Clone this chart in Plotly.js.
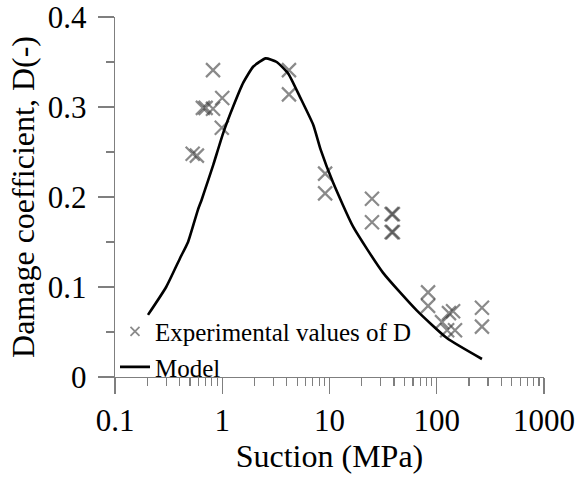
<!DOCTYPE html>
<html>
<head>
<meta charset="utf-8">
<script src="https://cdn.plot.ly/plotly-3.0.1.min.js"></script>
<style>html,body{margin:0;padding:0;background:#fff;}#chart{width:576px;height:477px;}</style>
</head>
<body>
<div id="chart"></div>
<script>
// Experimental values of D
const expSuction = [0.82, 0.66, 0.70, 0.82, 1.0, 0.99, 0.53, 0.58, 4.19, 4.19, 9.1, 9.1, 24.9, 24.9, 38, 39, 38, 39, 83, 83, 142, 130, 112, 125, 148, 264, 264];
const expD       = [0.341, 0.299, 0.299, 0.298, 0.310, 0.277, 0.248, 0.246, 0.341, 0.314, 0.226, 0.204, 0.198, 0.172, 0.181, 0.181, 0.161, 0.161, 0.094, 0.079, 0.073, 0.071, 0.061, 0.052, 0.052, 0.077, 0.056];
// Model curve
const modelSuction = [0.203, 0.30, 0.404, 0.48, 0.594, 0.643, 0.736, 0.826, 1.02, 1.27, 1.57, 1.95, 2.54, 3.22, 4.13, 5.31, 7.06, 8.3, 10.8, 16.6, 31.5, 65, 125, 264];
const modelD       = [0.069, 0.100, 0.132, 0.150, 0.186, 0.197, 0.218, 0.236, 0.271, 0.301, 0.327, 0.345, 0.354, 0.350, 0.337, 0.311, 0.280, 0.252, 0.216, 0.167, 0.116, 0.074, 0.043, 0.020];
const seriesNames = ["Experimental values of D", "Model"];
const xTickVals = [0.1, 1, 10, 100, 1000];
const yTickVals = [0, 0.1, 0.2, 0.3, 0.4];

const serif = "Liberation Serif, Times New Roman, serif";
const axisGray = "#7f7f7f";

const traces = [
  {
    x: expSuction, y: expD, type: "scatter", mode: "markers", showlegend: false,
    marker: {symbol: "x-thin-open", size: 14, color: "rgba(60,60,60,0.6)", line: {width: 2.2, color: "rgba(60,60,60,0.6)"}}
  },
  {
    x: [null], y: [null], type: "scatter", mode: "markers", name: seriesNames[0],
    marker: {symbol: "x-thin-open", size: 9, color: "#8a8a8a", line: {width: 1.8, color: "#8a8a8a"}}
  },
  {
    x: modelSuction, y: modelD, type: "scatter", mode: "lines", name: seriesNames[1],
    line: {color: "#000", width: 2.6, shape: "spline", smoothing: 0.5}
  }
];

const layout = {
  width: 576, height: 477,
  margin: {l: 115, r: 32, t: 17, b: 100},
  paper_bgcolor: "#fff", plot_bgcolor: "#fff",
  font: {family: serif, size: 31, color: "#000"},
  showlegend: true,
  legend: {x: 0.0, y: 0.19, xanchor: "left", yanchor: "top", bgcolor: "rgba(0,0,0,0)",
           font: {family: serif, size: 25, color: "#000"}, tracegroupgap: 0},
  xaxis: {
    type: "log", range: [-1, 3], tickvals: xTickVals, ticktext: xTickVals.map(String),
    showgrid: false, zeroline: false, showline: true, linecolor: axisGray, linewidth: 1.2,
    ticks: "outside", ticklen: 16, tickwidth: 1.2, tickcolor: axisGray,
    minor: {dtick: "D1", ticks: "outside", ticklen: 8, tickwidth: 1.2, tickcolor: axisGray, showgrid: false},
    tickfont: {family: serif, size: 31, color: "#000"},
    ticklabeloverflow: "allow",
    title: {text: "Suction (MPa)", font: {family: serif, size: 32, color: "#000"}, standoff: 3},
    automargin: false
  },
  yaxis: {
    range: [0, 0.4], tickvals: yTickVals, ticktext: yTickVals.map(v => String(v)),
    showgrid: false, zeroline: false, showline: true, linecolor: axisGray, linewidth: 1.2,
    ticks: "outside", ticklen: 16, tickwidth: 1.2, tickcolor: axisGray,
    minor: {dtick: 0.05, ticks: "outside", ticklen: 8, tickwidth: 1.2, tickcolor: axisGray, showgrid: false},
    tickfont: {family: serif, size: 31, color: "#000"},
    ticklabeloverflow: "allow",
    ticklabelstandoff: 5,
    title: {text: "Damage coefficient, D(-)", font: {family: serif, size: 32, color: "#000"}, standoff: 3},
    automargin: false
  }
};

Plotly.newPlot("chart", traces, layout, {displayModeBar: false, staticPlot: true});
</script>
</body>
</html>
